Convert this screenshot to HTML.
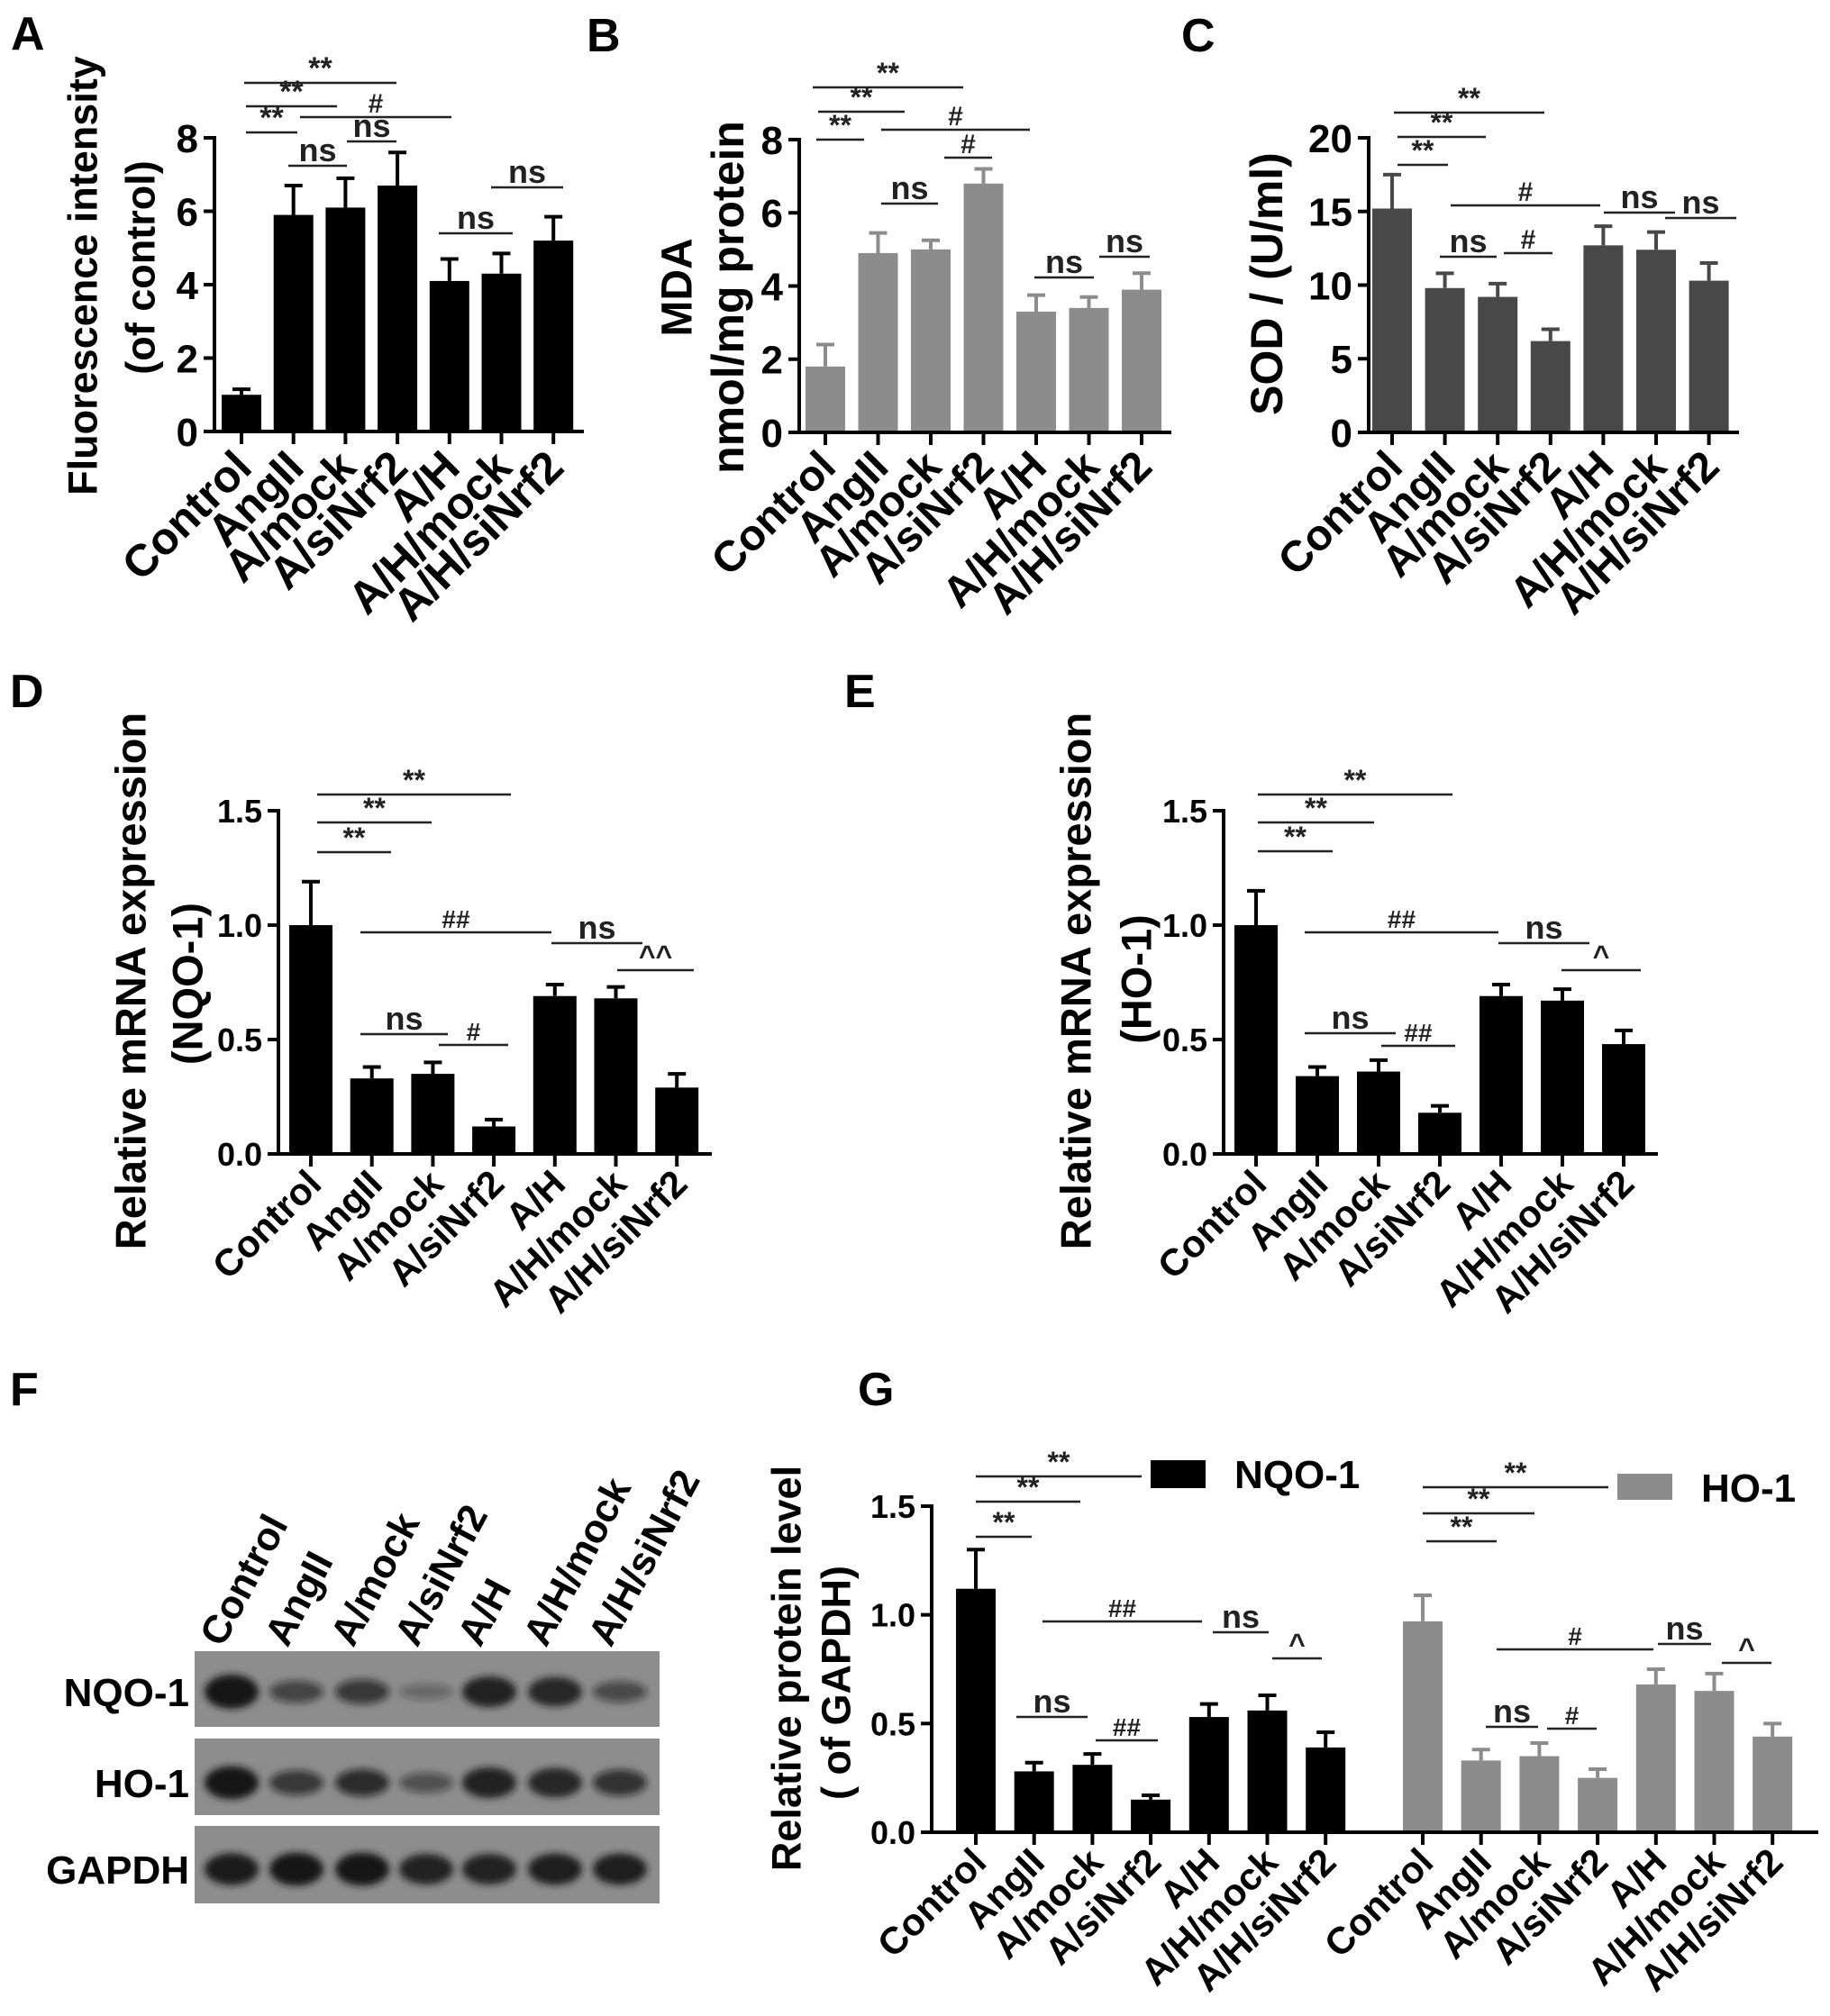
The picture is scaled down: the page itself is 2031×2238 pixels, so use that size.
<!DOCTYPE html>
<html><head><meta charset="utf-8"><style>
html,body{margin:0;padding:0;background:#fff;}
svg{display:block;font-family:"Liberation Sans",Arial,sans-serif;}
</style></head><body>
<svg id="fig" width="2031" height="2238" viewBox="0 0 2031 2238" xmlns="http://www.w3.org/2000/svg">
<defs><filter id="blur" x="-30%" y="-60%" width="160%" height="220%"><feGaussianBlur stdDeviation="4"/></filter></defs>
<g font-weight="bold" font-size="52">
<text x="12" y="55">A</text>
<text x="651" y="57">B</text>
<text x="1311" y="57">C</text>
<text x="11" y="785">D</text>
<text x="937" y="785">E</text>
<text x="11" y="1560">F</text>
<text x="952" y="1560">G</text>
</g>
</svg>
<script>
const categories = ["Control","AngII","A/mock","A/siNrf2","A/H","A/H/mock","A/H/siNrf2"];
const valuesA = [1.0,5.9,6.1,6.7,4.1,4.3,5.2];
const errorsA = [0.15,0.8,0.8,0.9,0.6,0.55,0.65];
const ticksA = [0,2,4,6,8];
const valuesB = [1.8,4.9,5.0,6.8,3.3,3.4,3.9];
const errorsB = [0.6,0.55,0.25,0.4,0.45,0.3,0.45];
const ticksB = [0,2,4,6,8];
const valuesC = [15.2,9.8,9.2,6.2,12.7,12.4,10.3];
const errorsC = [2.3,1.0,0.9,0.8,1.3,1.2,1.2];
const ticksC = [0,5,10,15,20];
const valuesD = [1.0,0.33,0.35,0.12,0.69,0.68,0.29];
const errorsD = [0.19,0.05,0.05,0.03,0.05,0.05,0.06];
const valuesE = [1.0,0.34,0.36,0.18,0.69,0.67,0.48];
const errorsE = [0.15,0.04,0.05,0.03,0.05,0.05,0.06];
const ticksDE = ["0.0","0.5","1.0","1.5"];
const valuesGNqo = [1.12,0.28,0.31,0.15,0.53,0.56,0.39];
const errorsGNqo = [0.18,0.04,0.05,0.02,0.06,0.07,0.07];
const valuesGHo = [0.97,0.33,0.35,0.25,0.68,0.65,0.44];
const errorsGHo = [0.12,0.05,0.06,0.04,0.07,0.08,0.06];
const blotNqo = [1.0,0.5,0.6,0.2,0.85,0.8,0.45];
const blotHo = [0.95,0.6,0.7,0.4,0.85,0.8,0.65];
const blotGapdh = [0.9,0.95,0.95,0.85,0.85,0.88,0.88];

const NS="http://www.w3.org/2000/svg";
const svg=document.getElementById('fig');
function el(tag,attrs,parent,txt){const e=document.createElementNS(NS,tag);for(const k in attrs)e.setAttribute(k,attrs[k]);if(txt!==undefined)e.textContent=txt;(parent||svg).appendChild(e);return e;}

function drawChart(o){
  const g=el('g',{});
  
  
  const y=v=>o.y0-(v-o.vmin)/(o.vmax-o.vmin)*(o.y0-o.yTop);
  const x=i=>o.x0+i*o.step;
  o.series.forEach((s,si)=>{
    s.values.forEach((v,i)=>{
      const cx=x(i)+s.offset;
      const r=el('rect',{x:cx-o.bw/2,y:y(v),width:o.bw,height:o.y0-y(v),fill:s.color},g);
      
      
      const top=y(v+s.errors[i]);
      const eb=el('path',{d:`M${cx} ${y(v)} V${top} M${cx-10} ${top} H${cx+10}`,stroke:s.color,'stroke-width':4,fill:'none'},g);
      
      
      const tk=el('line',{x1:cx,x2:cx,y1:o.y0,y2:o.y0+14,stroke:'#000','stroke-width':4},g);
      
      
      const ax=cx+14, ay=o.y0+o.xfs*0.85;
      const t=el('text',{x:ax,y:ay,'text-anchor':'end','font-size':o.xfs,'font-weight':'bold',transform:`rotate(-45 ${ax} ${ay})`},g,categories[i]);
      
      
    });
  });
  const ya=el('line',{x1:o.axisX,x2:o.axisX,y1:o.yTop-2,y2:o.y0+2,stroke:'#000','stroke-width':4},g);
  
  
  const xa=el('line',{x1:o.axisX-12,x2:o.xEnd,y1:o.y0,y2:o.y0,stroke:'#000','stroke-width':4},g);
  
  
  o.ticks.forEach(t=>{
    const v=parseFloat(t);
    el('line',{x1:o.axisX-12,x2:o.axisX,y1:y(v),y2:y(v),stroke:'#000','stroke-width':4},g);
    const tl=el('text',{x:o.axisX-18,y:y(v)+o.yfs*0.36,'text-anchor':'end','font-size':o.yfs,'font-weight':'bold'},g,String(t));
    
    
  });
  o.titles.forEach(tt=>{
    const t=el('text',{x:tt[0],y:tt[1],'text-anchor':'middle','font-size':tt[3]||45,'font-weight':'bold',transform:`rotate(-90 ${tt[0]} ${tt[1]})`,'dominant-baseline':'central'},g,tt[2]);
    
    
  });
  (o.sig||[]).forEach(s=>{
    el('line',{x1:s[0],x2:s[1],y1:s[2],y2:s[2],stroke:'#222','stroke-width':2.5},g);
    const t=el('text',{x:(s[0]+s[1])/2,y:s[2]-5,'text-anchor':'middle','font-size':s[4]||36,'font-weight':'bold',fill:'#222'},g,s[3]);
    
    
  });
  return g;
}

drawChart({name:'chart-a',x0:268,step:57.7,bw:44,axisX:238,xEnd:648,y0:479,yTop:153,vmin:0,vmax:8,ticks:ticksA,yfs:44,xfs:50,
  series:[{key:'a',values:valuesA,errors:errorsA,color:'#000',offset:0}],
  titles:[[92,306,'Fluorescence intensity',45],[156,297,'(of control)',45]],
  sig:[[271,440,92,'**',34],[273,374,118,'**',34],[273,330,147,'**',34],[333,501,130,'#',30],[385,440,157,'ns'],[320,385,184,'ns'],[487,569,259,'ns'],[545,625,208,'ns']]});
drawChart({name:'chart-b',x0:916,step:58.5,bw:44,axisX:887,xEnd:1300,y0:480,yTop:155,vmin:0,vmax:8,ticks:ticksB,yfs:44,xfs:48,
  series:[{key:'b',values:valuesB,errors:errorsB,color:'#8c8c8c',offset:0}],
  titles:[[752,319,'MDA',48],[808,330,'nmol/mg protein',50]],
  sig:[[902,1069,97,'**',32],[908,1004,124,'**',32],[906,959,155,'**',32],[978,1143,144,'#',30],[1048,1101,175,'#',30],[978,1041,226,'ns'],[1148,1214,308,'ns'],[1220,1276,285,'ns']]});
drawChart({name:'chart-c',x0:1545,step:58.6,bw:44,axisX:1519,xEnd:1930,y0:480,yTop:153,vmin:0,vmax:20,ticks:ticksC,yfs:44,xfs:48,
  series:[{key:'c',values:valuesC,errors:errorsC,color:'#484848',offset:0}],
  titles:[[1406,315,'SOD / (U/ml)',50]],
  sig:[[1547,1714,125,'**',32],[1551,1649,152,'**',32],[1551,1607,183,'**',32],[1610,1776,228,'#',30],[1780,1859,236,'ns'],[1848,1927,242,'ns'],[1598,1661,285,'ns'],[1669,1723,281,'#',30]]});
drawChart({name:'chart-d',x0:345,step:67.7,bw:48,axisX:309,xEnd:790,y0:1281,yTop:900,vmin:0,vmax:1.5,ticks:ticksDE,yfs:36,xfs:42,
  series:[{key:'d',values:valuesD,errors:errorsD,color:'#000',offset:0}],
  titles:[[145,1089,'Relative mRNA expression',47],[208,1092,'(NQO-1)',47]],
  sig:[[352,567,882,'**',32],[352,479,913,'**',32],[352,434,946,'**',32],[400,612,1035,'##',28],[612,713,1047,'ns'],[685,770,1077,'^^',32],[400,497,1148,'ns'],[487,564,1160,'#',28]]});
drawChart({name:'chart-e',x0:1394,step:68,bw:48,axisX:1358,xEnd:1840,y0:1281,yTop:900,vmin:0,vmax:1.5,ticks:ticksDE,yfs:36,xfs:42,
  series:[{key:'e',values:valuesE,errors:errorsE,color:'#000',offset:0}],
  titles:[[1194,1089,'Relative mRNA expression',47],[1261,1087,'(HO-1)',47]],
  sig:[[1396,1612,882,'**',32],[1396,1525,913,'**',32],[1396,1479,945,'**',32],[1448,1663,1035,'##',28],[1663,1764,1047,'ns'],[1733,1821,1077,'^',32],[1448,1549,1147,'ns'],[1533,1615,1161,'##',28]]});
drawChart({name:'chart-g',x0:1083,step:64.7,bw:44,axisX:1034,xEnd:2018,y0:2034,yTop:1672,vmin:0,vmax:1.5,ticks:ticksDE,yfs:36,xfs:42,
  series:[{key:'nqo1',values:valuesGNqo,errors:errorsGNqo,color:'#000',offset:0},{key:'ho1',values:valuesGHo,errors:errorsGHo,color:'#8c8c8c',offset:496}],
  titles:[[873,1852,'Relative protein level',45],[928,1868,'( of GAPDH)',45]],
  sig:[[1083,1267,1639,'**',32],[1083,1199,1667,'**',32],[1083,1145,1706,'**',32],[1157,1334,1800,'##',28],[1346,1408,1812,'ns'],[1412,1467,1841,'^',32],[1128,1207,1906,'ns'],[1216,1285,1932,'##',28],
       [1579,1785,1651,'**',32],[1579,1703,1680,'**',32],[1583,1661,1711,'**',32],[1661,1835,1831,'#',28],[1840,1899,1825,'ns'],[1911,1966,1846,'^',32],[1649,1707,1917,'ns'],[1717,1772,1919,'#',28]]});

const lg=el('g',{});


el('rect',{x:1277,y:1621,width:61,height:31,fill:'#000'},lg);
el('text',{x:1370,y:1652,'font-size':44,'font-weight':'bold'},lg,'NQO-1');
el('rect',{x:1795,y:1636,width:61,height:29,fill:'#8c8c8c'},lg);
el('text',{x:1888,y:1667,'font-size':44,'font-weight':'bold'},lg,'HO-1');

const lanes=[257,329,402,473,543,616,688];
const bg=el('g',{});


const rows=[['NQO-1',1833,1917,1878,blotNqo],['HO-1',1930,2015,1979,blotHo],['GAPDH',2027,2113,2075,blotGapdh]];
rows.forEach(r=>{
  const p=el('rect',{x:216,y:r[1],width:516,height:r[2]-r[1],fill:'#8d8d8d'},bg);
  
  
  const lb=el('text',{x:210,y:r[3]+16,'text-anchor':'end','font-size':44,'font-weight':'bold'},bg,r[0]);
  
  
  r[4].forEach((v,i)=>{
    const b=el('ellipse',{cx:lanes[i],cy:r[3],rx:30,ry:6+v*13,fill:'#141414','fill-opacity':Math.min(1,0.15+v*0.9),filter:'url(#blur)'},bg);
    
    
  });
});
categories.forEach((c,i)=>{
  const t=el('text',{x:lanes[i]-10,y:1830,'font-size':44,'font-weight':'bold',transform:`rotate(-62 ${lanes[i]-10} 1830)`},bg,c);
  
  
});
</script>
</body></html>
